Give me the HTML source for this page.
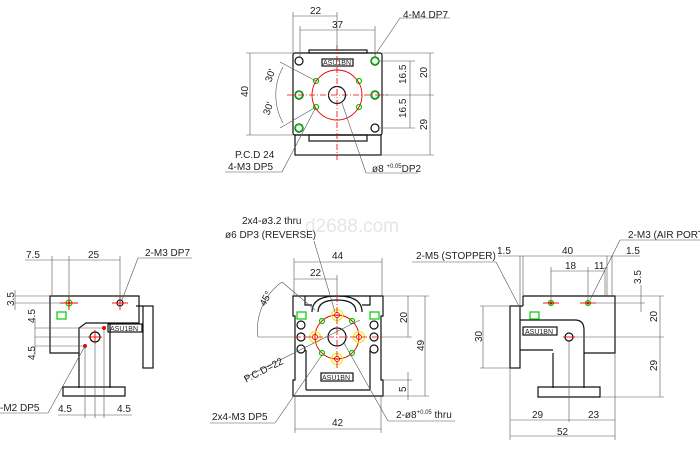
<!DOCTYPE html>
<html><head><style>
body{margin:0;background:#fff}
svg{display:block}
text{font-family:"Liberation Sans",sans-serif;font-size:10px;fill:#222}
.k{stroke:#111;stroke-width:1.2;fill:none}
.t{stroke:#555;stroke-width:.6;fill:none}
.r{stroke:#e00;stroke-width:.9;fill:none}
.rd{stroke:#e00;stroke-width:.8;stroke-dasharray:6 2 1 2;fill:none}
.g{stroke:#0c0;stroke-width:1.2;fill:none}
.y{stroke:#ee0;stroke-width:1.2;fill:none}
</style></head><body>
<svg width="700" height="450" viewBox="0 0 700 450" xmlns="http://www.w3.org/2000/svg">
<text x="305" y="232" style="font-size:19px;fill:#e6e6e6">d2688.com</text>

<!-- TOP VIEW -->
<rect class="k" x="309" y="50" width="58" height="3"/>
<rect class="k" x="293" y="53" width="89" height="82" rx="2"/>
<rect class="k" x="295" y="135" width="86" height="20"/>
<rect class="k" x="309" y="135" width="58" height="6"/>
<rect class="k" x="322" y="59" width="31" height="7" stroke-width=".8"/>
<text x="323" y="65" style="font-size:7px">ASU1BN</text>
<g class="k" stroke-width="1"><circle cx="299" cy="61" r="4"/><circle cx="375" cy="61" r="4"/><circle cx="299" cy="128" r="4"/><circle cx="375" cy="128" r="4"/><circle cx="299" cy="95" r="4"/><circle cx="375" cy="95" r="4"/><circle cx="337" cy="95" r="8.5"/></g>
<g class="g"><circle cx="299" cy="95" r="3.5"/><circle cx="375" cy="95" r="3.5"/><circle cx="299" cy="128" r="3.5"/><circle cx="375" cy="61" r="3.5"/><circle cx="316" cy="81" r="2.5"/><circle cx="359" cy="81" r="2.5"/><circle cx="316" cy="107" r="2.5"/><circle cx="359" cy="107" r="2.5"/></g>
<circle class="r" cx="337" cy="95" r="25"/>
<line class="rd" x1="337" y1="45" x2="337" y2="160"/><line class="rd" x1="287" y1="95" x2="388" y2="95"/>
<g class="t">
<line x1="293" y1="12" x2="293" y2="53"/><line x1="293" y1="16" x2="337" y2="16"/><line x1="337" y1="12" x2="337" y2="50"/>
<line x1="300" y1="26" x2="300" y2="58"/><line x1="375" y1="26" x2="375" y2="58"/><line x1="300" y1="30" x2="375" y2="30"/>
<line x1="246" y1="53" x2="293" y2="53"/><line x1="246" y1="135" x2="293" y2="135"/><line x1="250" y1="53" x2="250" y2="135"/>
<line x1="380" y1="61" x2="415" y2="61"/><line x1="380" y1="128" x2="415" y2="128"/><line x1="410" y1="61" x2="410" y2="128"/>
<line x1="382" y1="53" x2="434" y2="53"/><line x1="382" y1="155" x2="434" y2="155"/><line x1="430" y1="53" x2="430" y2="155"/>
<line x1="380" y1="95" x2="434" y2="95"/>
<path d="M283 67 A58 58 0 0 0 283 123"/><line x1="280" y1="62" x2="316" y2="81"/><line x1="280" y1="128" x2="316" y2="107"/>
<line x1="375" y1="55" x2="400" y2="18"/><line x1="400" y1="18" x2="450" y2="18"/>
<line x1="316" y1="107" x2="282" y2="172"/><line x1="225" y1="172" x2="282" y2="172"/>
<line x1="342" y1="103" x2="366" y2="173"/><line x1="366" y1="173" x2="418" y2="173"/>
</g>
<text x="310" y="14">22</text><text x="332" y="28">37</text><text x="403" y="18">4-M4 DP7</text>
<text x="243" y="98" transform="rotate(-90 245 95)">40</text>
<text x="398" y="80" transform="rotate(-90 404 78)">16.5</text><text x="398" y="114" transform="rotate(-90 404 112)">16.5</text>
<text x="420" y="77" transform="rotate(-90 424 74)">20</text><text x="420" y="129" transform="rotate(-90 424 126)">29</text>
<text x="265" y="80" transform="rotate(-70 270 77)">30'</text><text x="263" y="113" transform="rotate(-70 268 110)">30'</text>
<text x="235" y="158">P.C.D 24</text><text x="228" y="170">4-M3 DP5</text><text x="372" y="172">ø8 <tspan style="font-size:6px" dy="-4">+0.05</tspan><tspan dy="4">DP2</tspan></text>

<!-- CENTER VIEW -->
<path class="k" d="M293 296 H383 V316 H381 V380 H383 V396 H293 V380 H295 V316 H293 Z"/>
<path class="k" d="M305 296 V305 H312 M362 305 H370 V296"/>
<path class="k" d="M312 312 Q312 296 337 296 Q362 296 362 312 M318 312 Q318 300 337 300 Q356 300 356 312"/>
<path class="k" d="M306 350 V390 M370 350 V390 M306 390 H370"/>
<rect class="k" x="321" y="373" width="32" height="8" stroke-width=".8"/><text x="322" y="380" style="font-size:7px">ASU1BN</text>
<rect class="g" x="297" y="312" width="9" height="7"/><rect class="g" x="370" y="312" width="9" height="7"/>
<g class="k" stroke-width="1"><circle cx="301" cy="325" r="4"/><circle cx="301" cy="337" r="4"/><circle cx="301" cy="349" r="4"/><circle cx="374" cy="325" r="4"/><circle cx="374" cy="337" r="4"/><circle cx="374" cy="349" r="4"/><circle cx="337" cy="337" r="9"/></g>
<circle class="r" cx="337" cy="337" r="22"/>
<g class="y"><circle cx="337" cy="315" r="5.5"/><circle cx="337" cy="359" r="5.5"/><circle cx="315" cy="337" r="5.5"/><circle cx="359" cy="337" r="5.5"/></g>
<g class="r"><circle cx="337" cy="315" r="2.5"/><circle cx="337" cy="359" r="2.5"/><circle cx="315" cy="337" r="2.5"/><circle cx="359" cy="337" r="2.5"/></g>
<g class="g"><circle cx="322" cy="321" r="2.5"/><circle cx="352" cy="321" r="2.5"/><circle cx="322" cy="353" r="2.5"/><circle cx="352" cy="353" r="2.5"/></g>
<line class="rd" x1="337" y1="296" x2="337" y2="370"/><line class="rd" x1="295" y1="337" x2="381" y2="337"/>
<g class="t">
<line x1="294" y1="258" x2="294" y2="296"/><line x1="382" y1="258" x2="382" y2="296"/><line x1="294" y1="262" x2="382" y2="262"/><line x1="294" y1="279" x2="337" y2="279"/><line x1="337" y1="275" x2="337" y2="296"/>
<line x1="383" y1="296" x2="429" y2="296"/><line x1="383" y1="396" x2="429" y2="396"/><line x1="408" y1="296" x2="408" y2="337"/><line x1="425" y1="296" x2="425" y2="396"/><line x1="381" y1="337" x2="412" y2="337"/>
<line x1="383" y1="380" x2="412" y2="380"/><line x1="408" y1="372" x2="408" y2="400"/>
<line x1="295" y1="396" x2="295" y2="433"/><line x1="381" y1="396" x2="381" y2="433"/><line x1="295" y1="429" x2="381" y2="429"/>
<path d="M282 282 A58 58 0 0 0 258 337"/><line x1="282" y1="282" x2="315" y2="310"/><line x1="258" y1="337" x2="295" y2="337"/>
<line x1="314" y1="241" x2="335" y2="312"/><line x1="244" y1="378" x2="360" y2="320"/>
<line x1="322" y1="355" x2="275" y2="423"/><line x1="210" y1="423" x2="275" y2="423"/>
<line x1="344" y1="343" x2="388" y2="421"/><line x1="388" y1="421" x2="455" y2="421"/>
</g>
<text x="332" y="259">44</text><text x="310" y="276">22</text><text x="332" y="426">42</text>
<text x="398" y="322" transform="rotate(-90 403 318)">20</text><text x="415" y="350" transform="rotate(-90 420 346)">49</text><text x="400" y="392" transform="rotate(-90 403 389)">5</text>
<text x="242" y="224">2x4-ø3.2 thru</text><text x="225" y="238">ø6 DP3 (REVERSE)</text>
<text x="258" y="305" transform="rotate(-62 263 300)">45°</text>
<text x="245" y="382" transform="rotate(-27 247 380)">P.C.D=22</text>
<text x="212" y="420">2x4-M3 DP5</text><text x="396" y="418">2-ø8<tspan style="font-size:6px" dy="-4">+0.05</tspan><tspan dy="4"> thru</tspan></text>

<!-- LEFT VIEW -->
<path class="k" d="M50 296 H139 V323 H86 L79 328 V353 H50 Z"/>
<path class="k" d="M79 353 V388 M110 323 V388 M63 387 H125 V396 H63 Z"/>
<rect class="k" x="143" y="306" width="10" height="62"/><line class="k" x1="136" y1="306" x2="143" y2="306"/>
<rect class="k" x="108" y="324" width="34" height="8" stroke-width=".8"/><text x="110" y="331" style="font-size:7px">ASU1BN</text>
<rect class="g" x="57" y="312" width="9" height="7"/>
<circle class="k" cx="95" cy="337" r="5"/><circle class="g" cx="69" cy="303" r="3"/><circle cx="69" cy="303" r="1.5" fill="#e00"/><circle class="k" cx="120" cy="303" r="3"/>
<circle cx="104" cy="328" r="2" fill="#e00"/><circle cx="85" cy="346" r="2" fill="#e00"/>
<g class="r"><line x1="60" y1="303" x2="78" y2="303"/><line x1="69" y1="296" x2="69" y2="310"/><line x1="112" y1="303" x2="128" y2="303"/><line x1="120" y1="296" x2="120" y2="310"/><line x1="88" y1="337" x2="102" y2="337"/><line x1="95" y1="330" x2="95" y2="344"/></g>
<g class="t">
<line x1="25" y1="260" x2="120" y2="260"/><line x1="52" y1="256" x2="52" y2="296"/><line x1="69" y1="256" x2="69" y2="300"/><line x1="120" y1="256" x2="120" y2="300"/>
<line x1="15" y1="296" x2="50" y2="296"/><line x1="15" y1="303" x2="60" y2="303"/><line x1="15" y1="290" x2="15" y2="310"/>
<line x1="35" y1="328" x2="104" y2="328"/><line x1="35" y1="337" x2="88" y2="337"/><line x1="35" y1="346" x2="85" y2="346"/><line x1="35" y1="318" x2="35" y2="355"/>
<line x1="122" y1="300" x2="138" y2="258"/><line x1="138" y1="258" x2="192" y2="258"/>
<line x1="85" y1="346" x2="48" y2="413"/><line x1="0" y1="413" x2="48" y2="413"/>
<line x1="85" y1="346" x2="85" y2="418"/><line x1="95" y1="342" x2="95" y2="418"/><line x1="104" y1="328" x2="104" y2="418"/><line x1="58" y1="415" x2="132" y2="415"/>
</g>
<text x="26" y="258">7.5</text><text x="88" y="258">25</text><text x="145" y="256">2-M3 DP7</text>
<text x="4" y="304" transform="rotate(-90 10 300)">3.5</text><text x="26" y="322" transform="rotate(-90 31 318)">4.5</text><text x="26" y="359" transform="rotate(-90 31 355)">4.5</text>
<text x="0" y="411">-M2 DP5</text><text x="58" y="412">4.5</text><text x="117" y="412">4.5</text>

<!-- RIGHT VIEW -->
<path class="k" d="M523 296 H615 V353 H584 V330 Q584 320 575 320 H520 M523 296 V306"/>
<path class="k" d="M553 353 V388 M584 353 V388 M520 350 H553 M538 387 H600 V397 H538 Z M520 306 H523"/>
<rect class="k" x="510" y="306" width="10" height="62"/>
<rect class="k" x="523" y="327" width="34" height="8" stroke-width=".8"/><text x="525" y="334" style="font-size:7px">ASU1BN</text>
<rect class="g" x="530" y="312" width="9" height="7"/>
<circle class="k" cx="569" cy="337" r="4"/><circle class="g" cx="551" cy="303" r="2.5"/><circle class="g" cx="588" cy="303" r="2.5"/>
<circle cx="551" cy="303" r="1.5" fill="#e00"/><circle cx="588" cy="303" r="1.5" fill="#e00"/>
<g class="r"><line x1="543" y1="303" x2="559" y2="303"/><line x1="580" y1="303" x2="596" y2="303"/><line x1="563" y1="337" x2="575" y2="337"/></g>
<g class="t">
<line x1="520" y1="256" x2="520" y2="306"/><line x1="523" y1="256" x2="523" y2="296"/><line x1="607" y1="256" x2="607" y2="296"/><line x1="612" y1="256" x2="612" y2="296"/>
<line x1="498" y1="256" x2="640" y2="256"/>
<line x1="551" y1="267" x2="551" y2="300"/><line x1="588" y1="267" x2="588" y2="300"/><line x1="605" y1="267" x2="605" y2="296"/><line x1="551" y1="271" x2="605" y2="271"/>
<line x1="615" y1="296" x2="664" y2="296"/><line x1="596" y1="303" x2="645" y2="303"/><line x1="641" y1="285" x2="641" y2="312"/><line x1="660" y1="296" x2="660" y2="397"/><line x1="575" y1="337" x2="664" y2="337"/><line x1="600" y1="397" x2="664" y2="397"/>
<line x1="480" y1="306" x2="510" y2="306"/><line x1="480" y1="368" x2="510" y2="368"/><line x1="483" y1="306" x2="483" y2="368"/>
<line x1="510" y1="368" x2="510" y2="440"/><line x1="615" y1="353" x2="615" y2="440"/><line x1="569" y1="341" x2="569" y2="422"/>
<line x1="510" y1="420" x2="615" y2="420"/><line x1="510" y1="436" x2="615" y2="436"/>
<line x1="496" y1="262" x2="520" y2="308"/><line x1="412" y1="262" x2="496" y2="262"/>
<line x1="590" y1="300" x2="620" y2="240"/><line x1="620" y1="240" x2="700" y2="240"/>
</g>
<text x="416" y="259">2-M5 (STOPPER)</text><text x="497" y="254">1.5</text><text x="562" y="254">40</text><text x="626" y="254">1.5</text>
<text x="565" y="269">18</text><text x="594" y="269">11</text><text x="628" y="238">2-M3 (AIR PORT)</text>
<text x="632" y="283" transform="rotate(-90 637 279)">3.5</text><text x="650" y="321" transform="rotate(-90 654 318)">20</text><text x="650" y="370" transform="rotate(-90 654 367)">29</text>
<text x="474" y="342" transform="rotate(-90 478 338)">30</text>
<text x="532" y="418">29</text><text x="588" y="418">23</text><text x="557" y="435">52</text>
</svg>
</body></html>
